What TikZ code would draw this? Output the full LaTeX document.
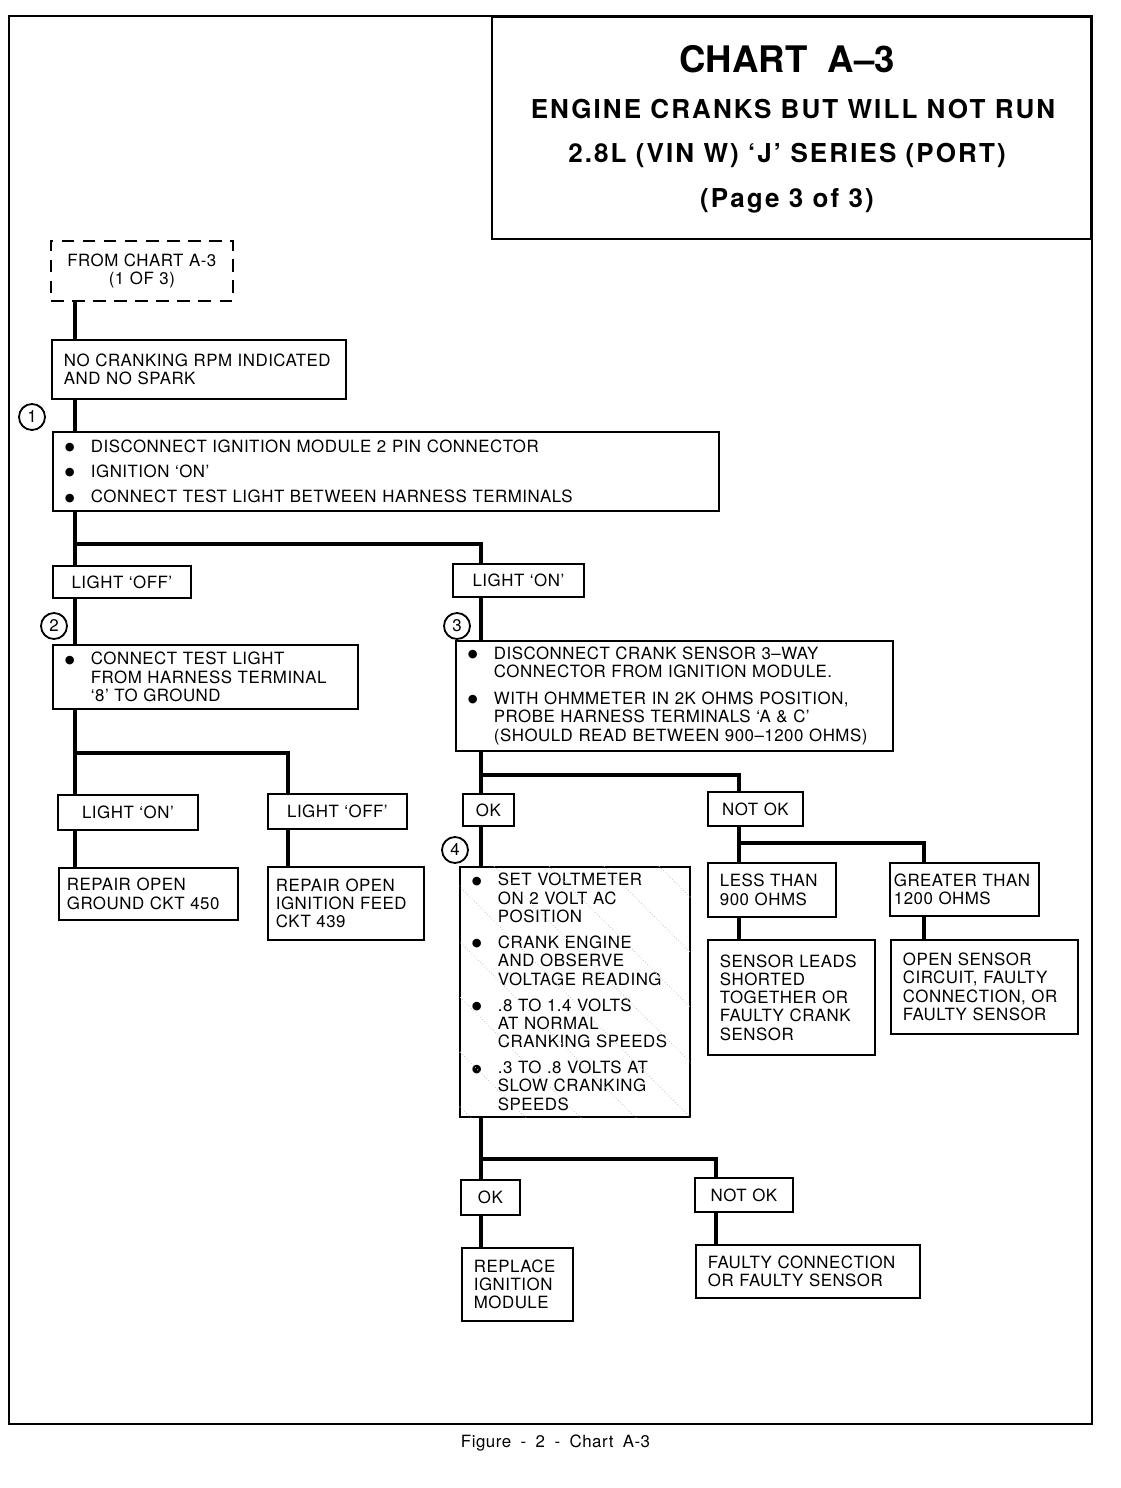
\documentclass[tikz,border=0pt]{standalone}
\usepackage{fontspec}
\setmainfont{TeX Gyre Heros}
\newfontfamily\chartfont[LetterSpace=3]{TeX Gyre Heros}
\newfontfamily\titlefont[LetterSpace=8]{TeX Gyre Heros}
\newfontfamily\capfont[LetterSpace=3, WordSpace=1.35]{TeX Gyre Heros}
\newfontfamily\symfont{DejaVu Sans}
\usetikzlibrary{positioning, calc}

\newcommand{\chartsize}{\fontsize{12pt}{13pt}\selectfont}
\newcommand{\bul}{\makebox[0.65cm][l]{\raisebox{1.2pt}{\symfont\fontsize{8pt}{8pt}\selectfont ●}}}
\newcommand{\ind}{\hspace*{0.65cm}}

\tikzset{
  box/.style={draw, line width=1.3pt, anchor=north west, inner xsep=0.3cm, inner ysep=0pt, align=left, font=\chartfont\chartsize},
  tag/.style={box, align=center},
  conn/.style={line width=3pt},
  numc/.style={circle, draw, line width=1.3pt, minimum size=0.65cm, inner sep=0pt, font=\fontsize{12pt}{12pt}\selectfont},
  titletext/.style={anchor=base, font=\titlefont\bfseries\fontsize{18.5pt}{20pt}\selectfont},
}

\begin{document}
\begin{tikzpicture}[x=0.025cm, y=-0.025cm]
  \useasboundingbox (0,0) rectangle (1120,1488);

  % Page frame and heading
  \draw[line width=1.1pt] (9,16) rectangle (1092,1424);
  \node[draw, line width=1.4pt, anchor=north west, minimum width=14.975cm, minimum height=5.55cm] (title) at (491,16) {};
  \node[anchor=base, font=\bfseries\fontsize{26pt}{28pt}\selectfont] (tl1) at (787,72) {CHART\ \ A–3};
  \node[titletext] (tl2) at (793,118) {ENGINE CRANKS BUT WILL NOT RUN};
  \node[titletext] (tl3) at (787,162) {2.8L (VIN W) ‘J’ SERIES (PORT)};
  \node[titletext] (tl4) at (787,207) {(Page 3 of 3)};

  % Columns of the trunk lines
  \coordinate (colA) at (75,0);
  \coordinate (colB) at (481,0);
  \coordinate (colC) at (288,0);
  \coordinate (colD) at (739,0);
  \coordinate (colE) at (924,0);
  \coordinate (colF) at (716,0);

  % Entry
  \node[tag, dash pattern=on 9pt off 6pt, line width=1.2pt, text width=3.95cm, minimum width=4.55cm, minimum height=1.5cm] (from) at (50,240) {FROM CHART A-3\\(1 OF 3)};
  \node[box, text width=6.75cm, minimum width=7.35cm, minimum height=1.475cm] (nocrank) at (51,339) {NO CRANKING RPM INDICATED\\AND NO SPARK};

  % Step 1
  \node[numc] (n1) at (32,417) {1};
  \node[box, text width=16.05cm, minimum width=16.65cm, minimum height=1.975cm] (chk1) at (52,431) {
    \bul DISCONNECT IGNITION MODULE 2 PIN CONNECTOR\\[5pt]
    \bul IGNITION ‘ON’\\[5pt]
    \bul CONNECT TEST LIGHT BETWEEN HARNESS TERMINALS};

  \node[tag, text width=2.85cm, minimum width=3.45cm, minimum height=0.8cm] (offA) at (52,565) {LIGHT ‘OFF’};
  \node[tag, text width=2.675cm, minimum width=3.275cm, minimum height=0.825cm] (onA) at (452,563) {LIGHT ‘ON’};

  % Step 2 (light off)
  \node[numc] (n2) at (54,626) {2};
  \node[box, text width=7.025cm, minimum width=7.625cm, minimum height=1.6cm] (chk2) at (52,644) {
    \bul CONNECT TEST LIGHT\\
    \ind FROM HARNESS TERMINAL\\
    \ind ‘8’ TO GROUND};

  \node[tag, text width=2.9cm, minimum width=3.5cm, minimum height=0.875cm] (onB) at (57,794) {LIGHT ‘ON’};
  \node[tag, text width=2.875cm, minimum width=3.475cm, minimum height=0.875cm] (offB) at (267,793) {LIGHT ‘OFF’};
  \node[box, inner xsep=0.2cm, text width=4.075cm, minimum width=4.475cm, minimum height=1.3cm] (repA) at (58,867) {REPAIR OPEN\\GROUND CKT 450};
  \node[box, inner xsep=0.2cm, text width=3.5cm, minimum width=3.9cm, minimum height=1.825cm] (repB) at (267,866) {REPAIR OPEN\\IGNITION FEED\\CKT 439};

  % Step 3 (light on)
  \node[numc] (n3) at (457,626) {3};
  \node[box, text width=10.325cm, minimum width=10.925cm, minimum height=2.75cm] (chk3) at (455,640) {
    \bul DISCONNECT CRANK SENSOR 3–WAY\\
    \ind CONNECTOR FROM IGNITION MODULE.\\[6pt]
    \bul WITH OHMMETER IN 2K OHMS POSITION,\\
    \ind PROBE HARNESS TERMINALS ‘A \& C’\\
    \ind (SHOULD READ BETWEEN 900–1200 OHMS)};

  \node[tag, inner xsep=0.1cm, text width=1.075cm, minimum width=1.275cm, minimum height=0.8cm] (okA) at (462,793) {OK};
  \node[tag, text width=1.775cm, minimum width=2.375cm, minimum height=0.85cm] (notokA) at (707,791) {NOT OK};

  % Resistance out of range
  \node[box, text width=2.6cm, minimum width=3.2cm, minimum height=1.35cm] (lessT) at (707,862) {LESS THAN\\900 OHMS};
  \node[box, inner xsep=0.1cm, text width=3.525cm, minimum width=3.725cm, minimum height=1.325cm] (greatT) at (889,862) {GREATER THAN\\1200 OHMS};
  \node[box, text width=3.575cm, minimum width=4.175cm, minimum height=2.875cm] (sensorR) at (707,939) {SENSOR LEADS\\SHORTED\\TOGETHER OR\\FAULTY CRANK\\SENSOR};
  \node[box, text width=4.075cm, minimum width=4.675cm, minimum height=2.35cm] (openR) at (890,939) {OPEN SENSOR\\CIRCUIT, FAULTY\\CONNECTION, OR\\FAULTY SENSOR};

  % Step 4
  \node[numc] (n4) at (455,850) {4};
  \node[box, text width=5.15cm, minimum width=5.75cm, minimum height=6.25cm] (chk4) at (459,866) {
    \bul SET VOLTMETER\\
    \ind ON 2 VOLT AC\\
    \ind POSITION\\[5.5pt]
    \bul CRANK ENGINE\\
    \ind AND OBSERVE\\
    \ind VOLTAGE READING\\[5.5pt]
    \bul .8 TO 1.4 VOLTS\\
    \ind AT NORMAL\\
    \ind CRANKING SPEEDS\\[5.5pt]
    \bul .3 TO .8 VOLTS AT\\
    \ind SLOW CRANKING\\
    \ind SPEEDS};
  % dotted screen over step 4
  \begin{scope}
    \clip (chk4.north west) rectangle (chk4.south east);
    \foreach \s in {-240,-185,...,200}
      \draw[gray!45, line width=0.6pt, dash pattern=on 0.6pt off 1.6pt] ($(chk4.north west)+(\s,0)$) -- ++(260,260);
  \end{scope}

  \node[tag, inner xsep=0.1cm, text width=1.275cm, minimum width=1.475cm, minimum height=0.875cm] (okB) at (460,1179) {OK};
  \node[tag, text width=1.85cm, minimum width=2.45cm, minimum height=0.85cm] (notokB) at (694,1177) {NOT OK};
  \node[box, text width=2.175cm, minimum width=2.775cm, minimum height=1.825cm] (replR) at (461,1247) {REPLACE\\IGNITION\\MODULE};
  \node[box, text width=5cm, minimum width=5.6cm, minimum height=1.325cm] (faultR) at (695,1244) {FAULTY CONNECTION\\OR FAULTY SENSOR};

  % Connectors
  \draw[conn] (from.south -| colA) -- (nocrank.north -| colA);
  \draw[conn] (nocrank.south -| colA) -- (chk1.north -| colA);
  \draw[conn] (chk1.south -| colA) -- (offA.north -| colA);
  \draw[conn] (chk1.south -| colA) -- ++(0,32) -| (onA.north -| colB);
  \draw[conn] (offA.south -| colA) -- (chk2.north -| colA);
  \draw[conn] (onA.south -| colB) -- (chk3.north -| colB);
  \draw[conn] (chk2.south -| colA) -- (onB.north -| colA);
  \draw[conn] (chk2.south -| colA) -- ++(0,43) -| (offB.north -| colC);
  \draw[conn] (onB.south -| colA) -- (repA.north -| colA);
  \draw[conn] (offB.south -| colC) -- (repB.north -| colC);
  \draw[conn] (chk3.south -| colB) -- (okA.north -| colB);
  \draw[conn] (chk3.south -| colB) -- ++(0,23) -| (notokA.north -| colD);
  \draw[conn] (okA.south -| colB) -- (chk4.north -| colB);
  \draw[conn] (notokA.south -| colD) -- (lessT.north -| colD);
  \draw[conn] (notokA.south -| colD) -- ++(0,16) -| (greatT.north -| colE);
  \draw[conn] (lessT.south -| colD) -- (sensorR.north -| colD);
  \draw[conn] (greatT.south -| colE) -- (openR.north -| colE);
  \draw[conn] (chk4.south -| colB) -- (okB.north -| colB);
  \draw[conn] (chk4.south -| colB) -- ++(0,41) -| (notokB.north -| colF);
  \draw[conn] (okB.south -| colB) -- (replR.north -| colB);
  \draw[conn] (notokB.south -| colF) -- (faultR.north -| colF);

  % Caption
  \node[anchor=base west, font=\capfont\fontsize{12pt}{14pt}\selectfont] (caption) at (456,1447) {Figure - 2 - Chart A-3};
\end{tikzpicture}
\end{document}
